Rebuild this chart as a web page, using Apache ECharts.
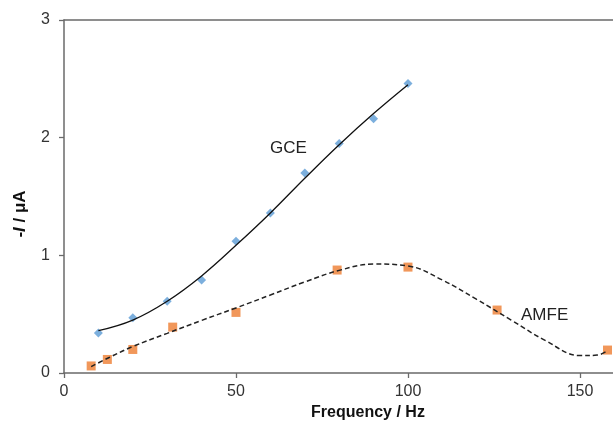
<!DOCTYPE html>
<html>
<head>
<meta charset="utf-8">
<script src="https://cdn.jsdelivr.net/npm/echarts@6/dist/echarts.min.js"></script>
<style>html,body{margin:0;padding:0;background:#fff}#c{width:613px;height:423px}</style>
</head>
<body>
<div id="c"></div>
<script>
// GCE measured points
const gceX = [10, 20, 30, 40, 50, 60, 70, 80, 90, 100];
const gceY = [0.34, 0.47, 0.61, 0.79, 1.12, 1.36, 1.70, 1.95, 2.16, 2.46];
// GCE trend line
const gceFitX = [10, 20, 30, 40, 50, 60, 70, 80, 90, 100];
const gceFitY = [0.36, 0.45, 0.61, 0.825, 1.085, 1.36, 1.655, 1.94, 2.205, 2.45];
// AMFE measured points
const amfeX = [7.9, 12.6, 20, 31.6, 50, 79.4, 100, 125.9, 158];
const amfeY = [0.06, 0.115, 0.20, 0.39, 0.515, 0.875, 0.90, 0.535, 0.195];
// AMFE trend line
const amfeFitX = [7.9, 13, 20, 30, 40, 50, 60, 70, 80, 90, 100, 110, 120, 130, 140, 150, 155, 158];
const amfeFitY = [0.054, 0.13, 0.225, 0.337, 0.447, 0.553, 0.663, 0.774, 0.872, 0.926, 0.91, 0.79, 0.625, 0.45, 0.275, 0.148, 0.152, 0.19];
// axis ticks
const xTicks = [0, 50, 100, 150];
const yTicks = [0, 1, 2, 3];

const zip = (a, b) => a.map((v, i) => [v, b[i]]);
const axisColor = '#6a6a6a';
const chart = echarts.init(document.getElementById('c'));
chart.setOption({
  animation: false,
  backgroundColor: '#fff',
  grid: { left: 64, top: 20, width: 549, height: 353 },
  xAxis: [{
    type: 'value', min: 0, max: 159.6, interval: 50,
    splitLine: { show: false },
    axisLine: { show: true, lineStyle: { color: axisColor, width: 1.5 } },
    axisTick: { show: true, length: 5, customValues: xTicks, lineStyle: { color: axisColor, width: 1.3 } },
    axisLabel: { customValues: xTicks, margin: 11, fontFamily: 'Liberation Sans', fontSize: 16, color: '#333' }
  }, {
    type: 'value', min: 0, max: 159.6, position: 'top',
    splitLine: { show: false },
    axisLine: { show: true, onZero: false, lineStyle: { color: axisColor, width: 1.5 } },
    axisTick: { show: false }, axisLabel: { show: false }
  }],
  yAxis: {
    type: 'value', min: 0, max: 3, interval: 1,
    splitLine: { show: false },
    axisLine: { show: true, lineStyle: { color: axisColor, width: 1.5 } },
    axisTick: { show: true, length: 5, customValues: yTicks, lineStyle: { color: axisColor, width: 1.3 } },
    axisLabel: { customValues: yTicks, margin: 14, fontFamily: 'Liberation Sans', fontSize: 16, color: '#333' }
  },
  series: [
    { type: 'scatter', name: 'GCE', data: zip(gceX, gceY), symbol: 'diamond', symbolSize: 9,
      itemStyle: { color: '#5B9BD5' }, z: 2 },
    { type: 'scatter', name: 'AMFE', data: zip(amfeX, amfeY), symbol: 'rect', symbolSize: 9,
      itemStyle: { color: '#ED7D31' }, z: 2 },
    { type: 'line', data: zip(gceFitX, gceFitY), smooth: 0.4, showSymbol: false, symbol: 'none',
      lineStyle: { color: '#111', width: 1.3 }, z: 3 },
    { type: 'line', data: zip(amfeFitX, amfeFitY), smooth: 0.4, showSymbol: false, symbol: 'none',
      lineStyle: { color: '#222', width: 1.5, type: [5, 3] }, z: 3 }
  ],
  graphic: [
    { type: 'text', left: 270, top: 140, style: { text: 'GCE', fontFamily: 'Liberation Sans', fontSize: 17, fill: '#222' } },
    { type: 'text', left: 521, top: 307, style: { text: 'AMFE', fontFamily: 'Liberation Sans', fontSize: 17, fill: '#222' } },
    { type: 'text', x: 368, y: 413, style: { text: 'Frequency / Hz', align: 'center', verticalAlign: 'middle',
      fontFamily: 'Liberation Sans', fontWeight: 'bold', fontSize: 16, fill: '#111' } },
    { type: 'text', x: 20, y: 214, rotation: Math.PI / 2, style: {
      text: '{b|-}{i|I}{b| / μA}', align: 'center', verticalAlign: 'middle',
      rich: {
        b: { fontFamily: 'Liberation Sans', fontWeight: 'bold', fontSize: 17, fill: '#111' },
        i: { fontFamily: 'Liberation Sans', fontWeight: 'bold', fontStyle: 'italic', fontSize: 17, fill: '#111' }
      } } }
  ]
});
</script>
</body>
</html>
